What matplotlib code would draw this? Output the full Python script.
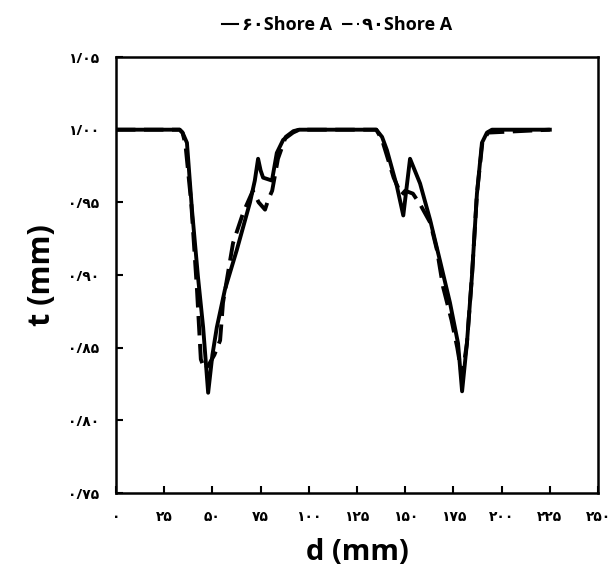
import matplotlib.pyplot as plt

# 60 Shore A (solid)
d_60 = [0, 33, 34.5, 36.8, 39.4, 42.5, 45.2, 47.8, 50, 52.3, 56.5, 62.6, 69.5, 72,
        73.7, 75, 76.3, 80.9, 83.4, 86.7, 91.8, 95, 135, 138, 140.5, 145.7, 149,
        152.5, 157.7, 162.9, 168, 173.2, 177.4, 179.5, 182, 184.6, 187.2, 189.8,
        192.4, 195, 225]
t_60 = [1, 1, 0.998, 0.991, 0.945, 0.899, 0.864, 0.819, 0.845, 0.864, 0.890, 0.917,
        0.950, 0.965, 0.980, 0.972, 0.967, 0.965, 0.984, 0.993, 0.998, 1, 1, 0.995,
        0.986, 0.961, 0.941, 0.980, 0.963, 0.938, 0.910, 0.881, 0.853, 0.820, 0.853,
        0.899, 0.956, 0.991, 0.998, 1, 1]

# 90 Shore A (dashed)
d_90 = [0, 33, 34.5, 36, 39, 42, 44, 46, 48, 51, 54, 55.5, 60.7, 66, 71, 74, 77.3,
        79, 81, 84, 88, 92, 95, 135, 138, 141, 144, 145.7, 148, 150, 154, 158, 163,
        166.5, 169.6, 174, 177, 179.5, 182, 184.6, 187.2, 190, 193, 225]
t_90 = [1, 1, 0.998, 0.99, 0.95, 0.89, 0.842, 0.835, 0.838, 0.845, 0.855, 0.881,
        0.922, 0.943, 0.958, 0.950, 0.945, 0.952, 0.958, 0.98, 0.995, 0.999, 1, 1,
        0.993, 0.98, 0.967, 0.962, 0.955, 0.958, 0.956, 0.948, 0.936, 0.917, 0.892,
        0.869, 0.850, 0.830, 0.853, 0.899, 0.956, 0.991, 0.998, 1]

x_ticks = [0, 25, 50, 75, 100, 125, 150, 175, 200, 225, 250]
x_labels = ['۰', '۲۵', '۵۰', '۷۵', '۱۰۰', '۱۲۵', '۱۵۰', '۱۷۵', '۲۰۰', '۲۲۵', '۲۵۰']
y_ticks = [0.75, 0.80, 0.85, 0.90, 0.95, 1.00, 1.05]
y_labels = ['۰/۷۵', '۰/۸۰', '۰/۸۵', '۰/۹۰', '۰/۹۵', '۱/۰۰', '۱/۰۵']
names = ['۶۰Shore A', '۹۰Shore A']

plt.rcParams['font.family'] = ['Open Sans', 'DejaVu Sans']

fig = plt.figure(figsize=(6.15, 5.68), dpi=100)
ax = fig.add_axes([0.1886, 0.132, 0.7838, 0.7676])

ax.plot(d_60, t_60, color='black', lw=2.8, label=names[0])
ax.plot(d_90, t_90, color='black', lw=2.8, dashes=(5, 2.2), label=names[1])

ax.set_xlim(0, 250)
ax.set_ylim(0.75, 1.05)
ax.set_xticks(x_ticks)
ax.set_xticklabels(x_labels, fontsize=10, fontweight='bold')
ax.set_yticks(y_ticks)
ax.set_yticklabels(y_labels, fontsize=10, fontweight='bold')
ax.tick_params(direction='in', length=5, width=1.5, pad=12)
for s in ax.spines.values():
    s.set_linewidth(1.8)

ax.set_xlabel('d (mm)', fontsize=21, fontweight='bold', labelpad=10)
ax.set_ylabel('t (mm)', fontsize=22, fontweight='bold', labelpad=8)

leg = fig.legend(loc='center', bbox_to_anchor=(0.548, 0.956), ncol=2, frameon=False,
                 prop={'size': 13, 'weight': 'bold'}, handlelength=0.9,
                 handletextpad=0.2, columnspacing=0.6)
for h in leg.get_lines():
    h.set_linewidth(1.5)

fig.savefig('out.png', dpi=100)
